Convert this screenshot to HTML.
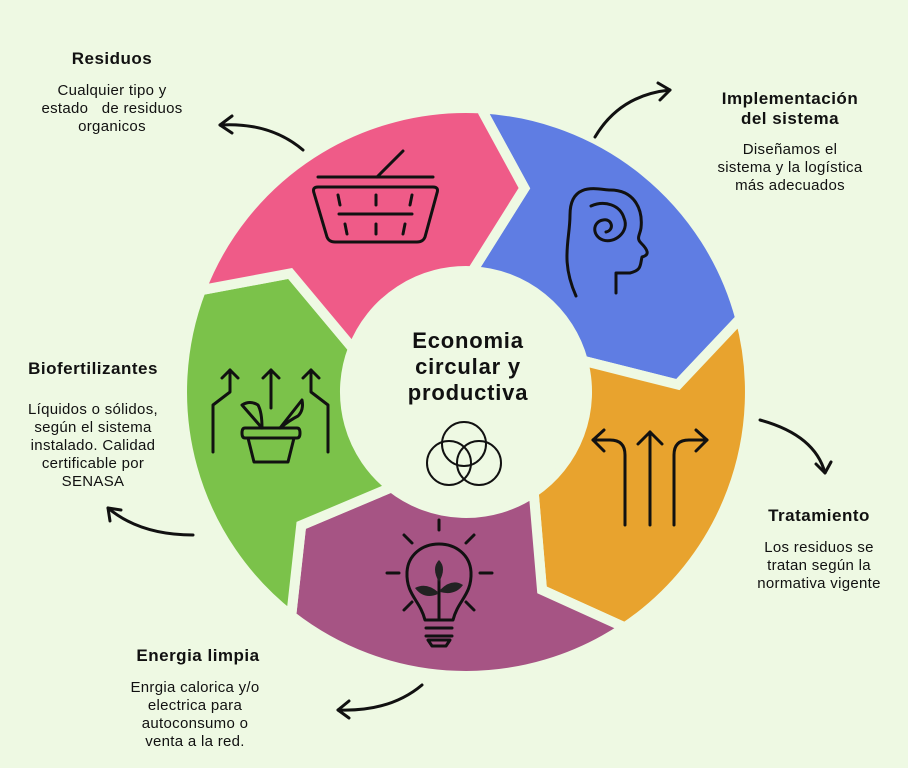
<!DOCTYPE html>
<html><head><meta charset="utf-8">
<style>
html,body{margin:0;padding:0;background:#eef9e3;}
body{width:908px;height:768px;overflow:hidden;position:relative;font-family:"Liberation Sans","DejaVu Sans",sans-serif;}
.t{position:absolute;text-align:center;color:#111;}
.h{font-weight:bold;font-size:17px;letter-spacing:0.5px;}
.d{font-size:15px;line-height:18px;letter-spacing:0.3px;}
</style></head><body>
<svg id="s" width="908" height="768" style="position:absolute;left:0;top:0">
<g id="segs"></g>
<circle cx="466" cy="392" r="118" fill="#eef9e3"/>
<g fill="none" stroke="#111" stroke-width="3" stroke-linecap="round" stroke-linejoin="round">
<line x1="318" y1="177" x2="433" y2="177"/>
<line x1="377" y1="177" x2="403" y2="151"/>
<path d="M318 187 Q312 187 314 193 L327 237 Q329 242 335 242 L417 242 Q423 242 425 237 L437 193 Q439 187 433 187 Z"/>
<line x1="339" y1="214" x2="412" y2="214"/>
<line x1="338" y1="195" x2="340" y2="205"/><line x1="376" y1="195" x2="376" y2="205"/><line x1="412" y1="195" x2="410" y2="205"/>
<line x1="345" y1="224" x2="347" y2="234"/><line x1="376" y1="224" x2="376" y2="234"/><line x1="405" y1="224" x2="403" y2="234"/>
<path d="M576 296 C560 260 570 240 570 215 C570 180 600 190 610 190 C635 190 643 210 641 228 C640 235 636 238 641 243 C648 250 650 255 642 257 C640 265 642 270 630 273 L616 273 L616 293"/>
<path d="M591 206 C605 200 620 205 624 218 C630 232 614 244 603 240 C592 236 592 222 603 220 C612 218 615 230 606 232"/>
<line x1="650" y1="525" x2="650" y2="432"/><path d="M638 444 L650 432 L662 444"/>
<path d="M625 525 L625 455 Q625 440 610 440 L593 440"/><path d="M604 430 L593 440 L604 451"/>
<path d="M674 525 L674 455 Q674 440 689 440 L707 440"/><path d="M696 430 L707 440 L696 451"/>
<circle cx="464" cy="444" r="22" stroke-width="2"/><circle cx="449" cy="463" r="22" stroke-width="2"/><circle cx="479" cy="463" r="22" stroke-width="2"/>
<path d="M213 452 L213 405 L230 392 L230 370"/><path d="M222 378 L230 370 L238 378"/>
<path d="M328 452 L328 405 L311 392 L311 370"/><path d="M303 378 L311 370 L319 378"/>
<line x1="271" y1="408" x2="271" y2="370"/><path d="M263 378 L271 370 L279 378"/>
<path d="M245 428 L297 428 Q300 428 300 433 Q300 438 297 438 L245 438 Q242 438 242 433 Q242 428 245 428 Z"/>
<path d="M248 438 L254 462 L288 462 L294 438"/>
<path d="M262 428 L242 405 Q250 400 258 405 Q262 412 262 428"/>
<path d="M280 428 L302 400 Q304 410 298 416 Q290 420 280 428"/>
<line x1="439" y1="520" x2="439" y2="530"/>
<line x1="404" y1="535" x2="412" y2="543"/><line x1="474" y1="535" x2="466" y2="543"/>
<line x1="387" y1="573" x2="399" y2="573"/><line x1="480" y1="573" x2="492" y2="573"/>
<line x1="404" y1="610" x2="412" y2="602"/><line x1="474" y1="610" x2="466" y2="602"/>
<path d="M425 620 C420 600 406 595 407 572 C408 555 422 544 439 544 C456 544 470 555 471 572 C472 595 458 600 453 620 Z"/>
<line x1="426" y1="628" x2="452" y2="628"/><line x1="426" y1="636" x2="452" y2="636"/>
<path d="M428 640 L450 640 L446 646 L432 646 Z"/>
<line x1="439" y1="575" x2="439" y2="618"/>
</g>
<g fill="#222">
<path d="M439 560 Q431 568 439 582 Q447 568 439 560Z"/>
<path d="M438 592 Q426 582 415 588 Q424 600 438 594Z"/>
<path d="M440 590 Q452 578 463 585 Q455 596 440 592Z"/>
</g>
<g fill="none" stroke="#111" stroke-width="3" stroke-linecap="round" stroke-linejoin="round">
<path d="M303 150 Q270 122 220 125"/><path d="M232 116 L220 125 L232 133"/>
<path d="M595 137 Q620 95 670 90"/><path d="M658 83 L670 90 L660 100"/>
<path d="M760 420 Q815 435 825 473"/><path d="M816 464 L825 473 L831 462"/>
<path d="M193 535 Q140 535 108 508"/><path d="M110 521 L108 508 L121 510"/>
<path d="M422 685 Q390 712 338 710"/><path d="M349 701 L338 710 L349 718"/>
</g>
</svg>
<script>
(function(){
var cx=466,cy=392,R=284,r=121,rm=212,d=13;
var b=[3,75,146,218,291,363];
var cols=["#5f7de3","#e8a32e","#a65484","#7bc24a","#ef5b88"];
function p(rad,a){a=a*Math.PI/180;return (cx+rad*Math.sin(a)).toFixed(1)+" "+(cy-rad*Math.cos(a)).toFixed(1);}
var g=document.getElementById("segs"),h="";
for(var i=0;i<5;i++){
 var s=b[i],e=b[i+1];
 var path="M"+p(R,s)+" A"+R+" "+R+" 0 0 1 "+p(R,e)+" L"+p(rm,e+d)+" L"+p(r,e)+" A"+r+" "+r+" 0 0 0 "+p(r,s)+" L"+p(rm,s+d)+" Z";
 h+='<path d="'+path+'" fill="'+cols[i]+'" stroke="#eef9e3" stroke-width="10" stroke-linejoin="miter"/>';
}
g.innerHTML=h;
})();
</script>
<div class="t h" style="left:12px;top:49px;width:200px;">Residuos</div>
<div class="t d" style="left:12px;top:82px;width:200px;">Cualquier tipo y<br>estado &nbsp; de residuos<br>organicos</div>
<div class="t h" style="left:680px;top:89px;width:220px;line-height:20px;">Implementación<br>del sistema</div>
<div class="t d" style="left:680px;top:141px;width:220px;">Diseñamos el<br>sistema y la logística<br>más adecuados</div>
<div class="t h" style="left:0px;top:359px;width:186px;">Biofertilizantes</div>
<div class="t d" style="left:0px;top:401px;width:186px;">Líquidos o sólidos,<br>según el sistema<br>instalado. Calidad<br>certificable por<br>SENASA</div>
<div class="t h" style="left:730px;top:506px;width:178px;">Tratamiento</div>
<div class="t d" style="left:730px;top:539px;width:178px;">Los residuos se<br>tratan según la<br>normativa vigente</div>
<div class="t h" style="left:98px;top:646px;width:200px;">Energia limpia</div>
<div class="t d" style="left:95px;top:679px;width:200px;">Enrgia calorica y/o<br>electrica para<br>autoconsumo o<br>venta a la red.</div>
<div class="t" style="left:366px;top:328px;width:204px;font-weight:bold;font-size:22px;line-height:26px;letter-spacing:0.8px;">Economia<br>circular y<br>productiva</div>
</body></html>
